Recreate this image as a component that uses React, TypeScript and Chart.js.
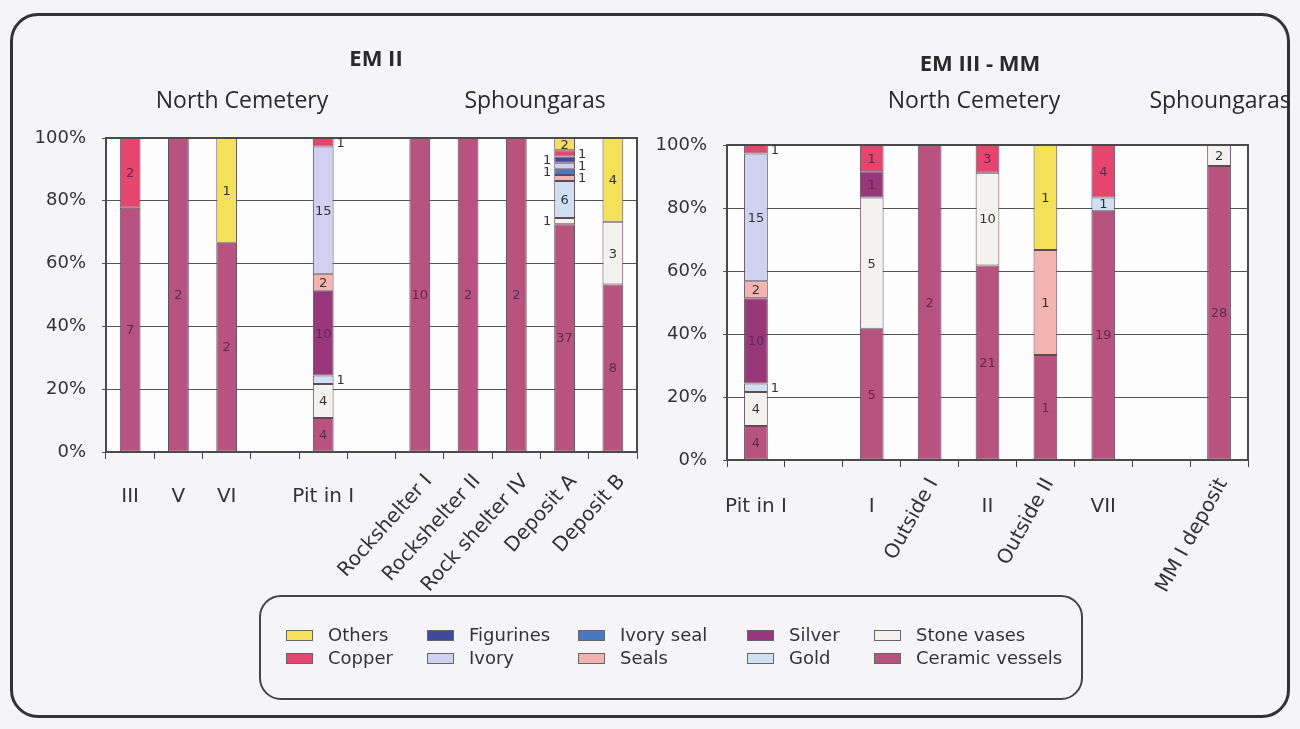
import React, { useEffect, useRef } from 'react';
import { Chart, registerables } from 'chart.js';
Chart.register(...registerables);

// ---------- DATA ----------
const seriesNames = ['Ceramic vessels', 'Stone vases', 'Gold', 'Silver', 'Seals', 'Ivory seal', 'Ivory', 'Figurines', 'Copper', 'Others'];
const seriesColors = ['#b8527f', '#f3f2ef', '#cfe0f2', '#98387a', '#f3b4b0', '#4a78c0', '#d0d0f0', '#3f4a9a', '#e6456e', '#f5e05a'];
const darkSeries = ['Ceramic vessels', 'Silver', 'Figurines', 'Ivory seal', 'Copper'];

// EM II
const emIILabels = ['III', 'V', 'VI', '', 'Pit in I', '', 'Rockshelter I', 'Rockshelter II', 'Rock shelter IV', 'Deposit A', 'Deposit B'];
const emIIRotated = ['Rockshelter I', 'Rockshelter II', 'Rock shelter IV', 'Deposit A', 'Deposit B'];
const emIICeramic = [7, 2, 2, 0, 4, 0, 10, 2, 2, 37, 8];
const emIIStone = [0, 0, 0, 0, 4, 0, 0, 0, 0, 1, 3];
const emIIGold = [0, 0, 0, 0, 1, 0, 0, 0, 0, 6, 0];
const emIISilver = [0, 0, 0, 0, 10, 0, 0, 0, 0, 0, 0];
const emIISeals = [0, 0, 0, 0, 2, 0, 0, 0, 0, 1, 0];
const emIIIvorySeal = [0, 0, 0, 0, 0, 0, 0, 0, 0, 1, 0];
const emIIIvory = [0, 0, 0, 0, 15, 0, 0, 0, 0, 1, 0];
const emIIFigurines = [0, 0, 0, 0, 0, 0, 0, 0, 0, 1, 0];
const emIICopper = [2, 0, 0, 0, 1, 0, 0, 0, 0, 1, 0];
const emIIOthers = [0, 0, 1, 0, 0, 0, 0, 0, 0, 2, 4];

// EM III - MM
const emIIIMLabels = ['Pit in I', '', 'I', 'Outside I', 'II', 'Outside II', 'VII', '', 'MM I deposit'];
const emIIIMRotated = ['Outside I', 'Outside II', 'MM I deposit'];
const emIIIMCeramic = [4, 0, 5, 2, 21, 1, 19, 0, 28];
const emIIIMStone = [4, 0, 5, 0, 10, 0, 0, 0, 2];
const emIIIMGold = [1, 0, 0, 0, 0, 0, 1, 0, 0];
const emIIIMSilver = [10, 0, 1, 0, 0, 0, 0, 0, 0];
const emIIIMSeals = [2, 0, 0, 0, 0, 1, 0, 0, 0];
const emIIIMIvorySeal = [0, 0, 0, 0, 0, 0, 0, 0, 0];
const emIIIMIvory = [15, 0, 0, 0, 0, 0, 0, 0, 0];
const emIIIMFigurines = [0, 0, 0, 0, 0, 0, 0, 0, 0];
const emIIIMCopper = [1, 0, 1, 0, 3, 0, 4, 0, 0];
const emIIIMOthers = [0, 0, 0, 0, 0, 1, 0, 0, 0];

const yTicks = [0, 20, 40, 60, 80, 100];

const emIICounts = [emIICeramic, emIIStone, emIIGold, emIISilver, emIISeals, emIIIvorySeal, emIIIvory, emIIFigurines, emIICopper, emIIOthers];
const emIIIMCounts = [emIIIMCeramic, emIIIMStone, emIIIMGold, emIIIMSilver, emIIIMSeals, emIIIMIvorySeal, emIIIMIvory, emIIIMFigurines, emIIIMCopper, emIIIMOthers];

// ---------- CHART BUILDER ----------
const TICK_FONT = '"DejaVu Sans", sans-serif';

function makeChart(canvas: HTMLCanvasElement, cfg: any) {
  const { labels, counts, rotated, angle, pad, yWidth, xHeight, barPct, hLabelDy, rotDx, rotDy } = cfg;
  const n = labels.length;
  const totals = labels.map((_: string, i: number) => counts.reduce((s: number, arr: number[]) => s + arr[i], 0));
  const datasets = counts.map((arr: number[], d: number) => ({
    label: seriesNames[d],
    data: arr.map((v: number, i: number) => (v ? (v / totals[i]) * 100 : null)),
    backgroundColor: seriesColors[d],
    borderColor: '#5e4a58',
    borderWidth: 1,
    borderSkipped: false,
    barPercentage: barPct,
    categoryPercentage: 1,
  }));

  const plugin = {
    id: 'custom',
    beforeDraw(chart: any) {
      const { ctx, chartArea: a } = chart;
      ctx.save();
      ctx.fillStyle = '#fdfdfe';
      ctx.fillRect(a.left, a.top, a.right - a.left, a.bottom - a.top);
      ctx.restore();
    },
    afterDatasetsDraw(chart: any) {
      const { ctx, chartArea: a } = chart;
      ctx.save();
      ctx.strokeStyle = '#4a4a4a';
      ctx.lineWidth = 2;
      ctx.strokeRect(a.left, a.top, a.right - a.left, a.bottom - a.top);
      // data labels
      ctx.font = '13px ' + TICK_FONT;
      ctx.textBaseline = 'middle';
      for (let i = 0; i < n; i++) {
        const small: any[] = [];
        for (let d = 0; d < counts.length; d++) {
          const c = counts[d][i];
          if (!c) continue;
          const el = chart.getDatasetMeta(d).data[i];
          const p = el.getProps(['x', 'y', 'base', 'width'], true);
          const h = Math.abs(p.base - p.y);
          const cy = (p.y + p.base) / 2;
          if (h >= 11) {
            ctx.textAlign = 'center';
            ctx.fillStyle = darkSeries.includes(seriesNames[d]) ? '#5b2c4e' : '#333';
            ctx.fillText(String(c), p.x, cy + 1);
          } else {
            small.push({ c, x: p.x, y: cy, w: p.width });
          }
        }
        const alt = small.length > 2;
        small.forEach((s, k) => {
          const left = alt && k % 2 === 0;
          ctx.fillStyle = '#333';
          ctx.textAlign = left ? 'right' : 'left';
          ctx.fillText(String(s.c), left ? s.x - s.w / 2 - 3 : s.x + s.w / 2 + 3, s.y + 1);
        });
      }
      // x labels
      const xs = chart.scales.x;
      ctx.fillStyle = '#333';
      ctx.font = '20px ' + TICK_FONT;
      for (let i = 0; i < n; i++) {
        const lab = labels[i];
        if (!lab) continue;
        const x = xs.getPixelForValue(i);
        if (rotated.includes(lab)) {
          ctx.save();
          ctx.translate(x + rotDx, a.bottom + rotDy);
          ctx.rotate((-angle * Math.PI) / 180);
          ctx.textAlign = 'right';
          ctx.textBaseline = 'middle';
          ctx.fillText(lab, 0, 0);
          ctx.restore();
        } else {
          ctx.textAlign = 'center';
          ctx.textBaseline = 'middle';
          ctx.fillText(lab, x, a.bottom + hLabelDy);
        }
      }
      ctx.restore();
    },
  };

  return new Chart(canvas, {
    type: 'bar',
    data: { labels, datasets },
    plugins: [plugin],
    options: {
      responsive: false,
      animation: false,
      layout: { padding: pad },
      plugins: { legend: { display: false }, tooltip: { enabled: false } },
      scales: {
        x: {
          stacked: true,
          offset: true,
          ticks: { display: false },
          grid: { display: true, drawOnChartArea: false, drawTicks: true, tickLength: 7, color: '#444', offset: true },
          border: { display: true, color: '#444', width: 2 },
          afterFit: (s: any) => { s.height = xHeight; },
        },
        y: {
          stacked: true,
          min: 0,
          max: 100,
          afterBuildTicks: (s: any) => { s.ticks = yTicks.map((v) => ({ value: v })); },
          ticks: { callback: (v: any) => v + '%', color: '#333', font: { family: TICK_FONT, size: 18 }, padding: 16 },
          grid: { color: '#555', lineWidth: 1, tickLength: 4 },
          border: { display: true, color: '#444', width: 2 },
          afterFit: (s: any) => { s.width = yWidth; },
        },
      },
    },
  });
}

const legendOrder = seriesNames.slice().reverse();
const legendCols = [286, 427, 578, 747, 874];
const legendRows = [635, 658];

export default function App() {
  const c1 = useRef<HTMLCanvasElement>(null);
  const c2 = useRef<HTMLCanvasElement>(null);
  useEffect(() => {
    document.body.style.margin = '0';
    const ch1 = makeChart(c1.current!, {
      labels: emIILabels, counts: emIICounts, rotated: emIIRotated, angle: 48,
      pad: { top: 138, right: 3, left: 0, bottom: 0 }, yWidth: 106, xHeight: 148, barPct: 0.43,
      hLabelDy: 45, rotDx: 9, rotDy: 26,
    });
    const ch2 = makeChart(c2.current!, {
      labels: emIIIMLabels, counts: emIIIMCounts, rotated: emIIIMRotated, angle: 61,
      pad: { top: 145, right: 52, left: 0, bottom: 0 }, yWidth: 87, xHeight: 160, barPct: 0.41,
      hLabelDy: 47, rotDx: 4, rotDy: 20,
    });
    return () => { ch1.destroy(); ch2.destroy(); };
  }, []);

  const heading = (text: string, x: number, y: number, bold: boolean, size: number) => (
    <div style={{ position: 'absolute', left: x, top: y, transform: 'translate(-50%, -50%)', whiteSpace: 'nowrap',
      fontFamily: '"Open Sans", sans-serif', fontWeight: bold ? 700 : 400, fontSize: size, color: '#2a2a2a', lineHeight: 1 }}>{text}</div>
  );

  return (
    <div style={{ position: 'absolute', left: 0, top: 0, width: 1300, height: 729, background: '#f5f5f7', overflow: 'hidden' }}>
      <div style={{ position: 'absolute', left: 10, top: 13, width: 1274, height: 699, border: '3px solid #333', borderRadius: 28 }} />
      <canvas ref={c1} width={640} height={600} style={{ position: 'absolute', left: 0, top: 0 }} />
      <canvas ref={c2} width={660} height={620} style={{ position: 'absolute', left: 640, top: 0 }} />
      {heading('EM II', 376, 57, true, 22)}
      {heading('North Cemetery', 242, 99, false, 23)}
      {heading('Sphoungaras', 535, 99, false, 23)}
      {heading('EM III - MM', 980, 62, true, 22)}
      {heading('North Cemetery', 974, 99, false, 23)}
      {heading('Sphoungaras', 1220, 99, false, 23)}
      <div style={{ position: 'absolute', left: 259, top: 595, width: 820, height: 101, border: '2px solid #444', borderRadius: 22 }} />
      {legendOrder.map((name, k) => {
        const col = Math.floor(k / 2);
        const row = k % 2;
        const color = seriesColors[seriesNames.indexOf(name)];
        return (
          <React.Fragment key={name}>
            <div style={{ position: 'absolute', left: legendCols[col], top: legendRows[row] - 5, width: 25, height: 9, background: color, border: '1px solid #666' }} />
            <div style={{ position: 'absolute', left: legendCols[col] + 42, top: legendRows[row], transform: 'translateY(-50%)', whiteSpace: 'nowrap',
              fontFamily: TICK_FONT, fontSize: 18, color: '#333', lineHeight: 1 }}>{name}</div>
          </React.Fragment>
        );
      })}
    </div>
  );
}
